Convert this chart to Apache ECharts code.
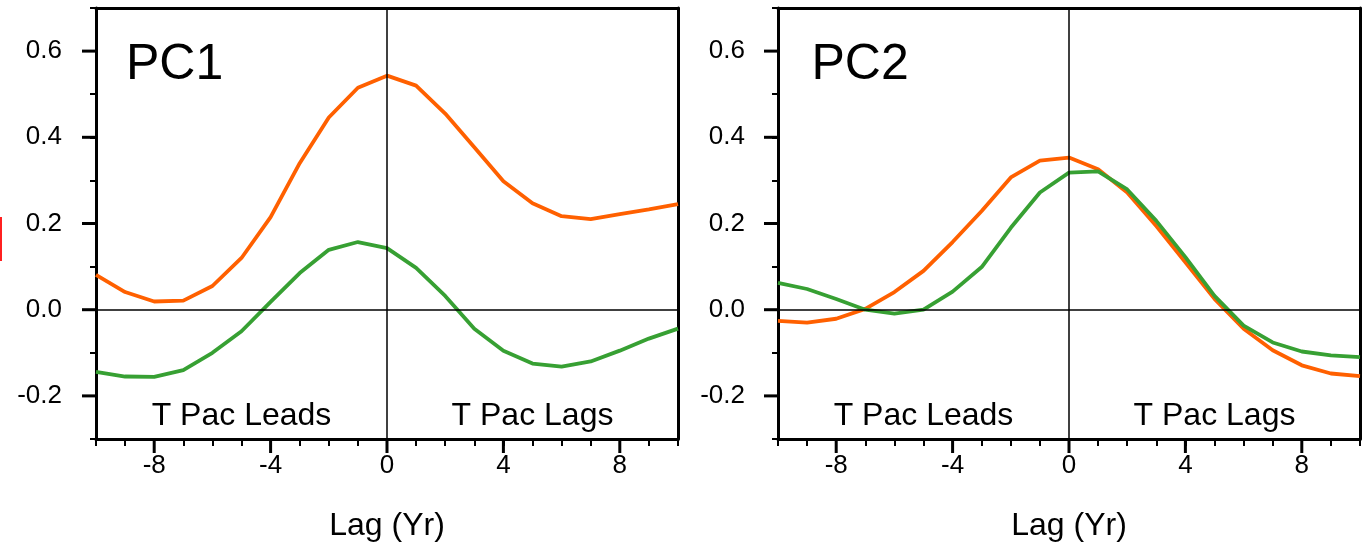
<!DOCTYPE html>
<html>
<head>
<meta charset="utf-8">
<script src="https://cdn.jsdelivr.net/npm/echarts@6/dist/echarts.min.js"></script>
<style>
html,body{margin:0;padding:0;background:#fff;}
#c{width:1366px;height:553px;}
</style>
</head>
<body>
<div id="c"></div>
<script>
// ---- data ----
const lags = [-10,-9,-8,-7,-6,-5,-4,-3,-2,-1,0,1,2,3,4,5,6,7,8,9,10];
const pc1Orange = [0.081,0.041,0.019,0.021,0.055,0.12,0.215,0.34,0.446,0.515,0.543,0.52,0.455,0.377,0.298,0.247,0.217,0.21,0.222,0.233,0.245];
const pc1Green  = [-0.144,-0.155,-0.156,-0.14,-0.1,-0.05,0.018,0.085,0.139,0.157,0.143,0.097,0.032,-0.044,-0.095,-0.125,-0.132,-0.12,-0.095,-0.067,-0.044];
const pc2Orange = [-0.026,-0.03,-0.021,0.002,0.041,0.09,0.157,0.229,0.307,0.346,0.353,0.326,0.272,0.194,0.11,0.025,-0.044,-0.094,-0.129,-0.148,-0.154];
const pc2Green  = [0.062,0.048,0.025,0.0,-0.009,0.0,0.042,0.099,0.19,0.272,0.318,0.321,0.279,0.206,0.122,0.032,-0.037,-0.076,-0.097,-0.106,-0.11];
const xMajorTicks = [-8,-4,0,4,8];
const yMajorTicks = [-0.2,0,0.2,0.4,0.6];
const panelTitles = ['PC1','PC2'];
const regionLabels = ['T Pac Leads','T Pac Lags'];
const xLabel = 'Lag (Yr)';

const X_MIN = -10, X_MAX = 10, Y_MIN = -0.3, Y_MAX = 0.7;
const ORANGE = '#ff6000', GREEN = '#37a033';
const FONT = '"Liberation Sans", Arial, Helvetica, sans-serif';

const chart = echarts.init(document.getElementById('c'), null, {renderer:'canvas'});

function pairs(ys){ return lags.map((x,i)=>[x, ys[i]]); }

const grids = [
  {left:96, top:8, width:582, height:431},
  {left:778, top:8, width:582, height:431}
];
const yLabelMargins = [34, 33];
const titleLag = [-8.97, -8.85];

const xAxes = [];
const yAxes = [];
grids.forEach((g,i)=>{
  xAxes.push({
    gridIndex:i, type:'value', min:X_MIN, max:X_MAX, interval:1, position:'bottom',
    axisLine:{show:true, onZero:false, lineStyle:{color:'#000', width:3}},
    axisTick:{show:true, length:7, lineStyle:{color:'#000', width:2}},
    axisLabel:{show:true, margin:14, color:'#000', fontSize:26, fontFamily:FONT,
      formatter:v=> (Math.round(v)%4===0 ? String(Math.round(v)) : '')},
    splitLine:{show:false},
    name:xLabel, nameLocation:'middle', nameGap:71,
    nameTextStyle:{color:'#000', fontSize:32, fontFamily:FONT}
  });
  xAxes.push({
    gridIndex:i, type:'value', min:X_MIN, max:X_MAX, position:'top',
    axisLine:{show:true, onZero:false, lineStyle:{color:'#000', width:3}},
    axisTick:{show:false}, axisLabel:{show:false}, splitLine:{show:false}
  });
  yAxes.push({
    gridIndex:i, type:'value', min:Y_MIN, max:Y_MAX, interval:0.1, position:'left',
    axisLine:{show:true, onZero:false, lineStyle:{color:'#000', width:3}},
    axisTick:{show:true, length:6, lineStyle:{color:'#000', width:2}},
    axisLabel:{show:true, margin:yLabelMargins[i], color:'#000', fontSize:26, fontFamily:FONT,
      formatter:v=>{ const k=Math.round(v*10); return (k%2===0) ? (k/10).toFixed(1) : ''; }},
    splitLine:{show:false}
  });
  yAxes.push({
    gridIndex:i, type:'value', min:Y_MIN, max:Y_MAX, position:'right',
    axisLine:{show:true, onZero:false, lineStyle:{color:'#000', width:3}},
    axisTick:{show:false}, axisLabel:{show:false}, splitLine:{show:false}
  });
});

const zeroLines = {
  silent:true, symbol:'none', animation:false,
  label:{show:false},
  lineStyle:{color:'#000', width:1.5, type:'solid'},
  data:[{yAxis:0},{xAxis:0}]
};

function lineSeries(data, color, gi, withZero){
  const s = {type:'line', xAxisIndex:gi*2, yAxisIndex:gi*2, data:pairs(data), showSymbol:false,
    symbol:'none', smooth:false, lineStyle:{color:color, width:3.8}, itemStyle:{color:color}, z:3};
  if(withZero) s.markLine = zeroLines;
  return s;
}
function xTickSeries(gi){
  return {type:'custom', xAxisIndex:gi*2, yAxisIndex:gi*2, clip:false, silent:true, z:5,
    encode:{x:0, y:1},
    data:xMajorTicks.map(v=>[v, Y_MIN]),
    renderItem:(params, api)=>{
      const p = api.coord([api.value(0), api.value(1)]);
      return {type:'line', shape:{x1:p[0], y1:p[1], x2:p[0], y2:p[1]+14}, style:{stroke:'#000', lineWidth:3}};
    }};
}
function yTickSeries(gi){
  return {type:'custom', xAxisIndex:gi*2, yAxisIndex:gi*2, clip:false, silent:true, z:5,
    encode:{x:0, y:1},
    data:yMajorTicks.map(v=>[X_MIN, v]),
    renderItem:(params, api)=>{
      const p = api.coord([api.value(0), api.value(1)]);
      return {type:'line', shape:{x1:p[0]-14, y1:p[1], x2:p[0], y2:p[1]}, style:{stroke:'#000', lineWidth:3}};
    }};
}

chart.setOption({
  animation:false,
  backgroundColor:'#fff',
  grid: grids.map(g=>Object.assign({show:false}, g)),
  xAxis: xAxes,
  yAxis: yAxes,
  series:[
    lineSeries(pc1Orange, ORANGE, 0, true),
    lineSeries(pc1Green, GREEN, 0, false),
    lineSeries(pc2Orange, ORANGE, 1, true),
    lineSeries(pc2Green, GREEN, 1, false),
    xTickSeries(0), yTickSeries(0), xTickSeries(1), yTickSeries(1)
  ]
});

// text annotations positioned via the chart's own coordinate system
const graphics = [];
[0,1].forEach(gi=>{
  const t = chart.convertToPixel({xAxisIndex:gi*2, yAxisIndex:gi*2}, [titleLag[gi], 0.567]);
  graphics.push({type:'text', x:t[0], y:t[1], silent:true, z:10,
    style:{text:panelTitles[gi], fill:'#000', font:'50px '+FONT, textAlign:'left', textVerticalAlign:'middle'}});
  const a = chart.convertToPixel({xAxisIndex:gi*2, yAxisIndex:gi*2}, [-5, -0.248]);
  const b = chart.convertToPixel({xAxisIndex:gi*2, yAxisIndex:gi*2}, [5, -0.248]);
  graphics.push({type:'text', x:a[0], y:a[1], silent:true, z:10,
    style:{text:regionLabels[0], fill:'#000', font:'32px '+FONT, textAlign:'center', textVerticalAlign:'middle'}});
  graphics.push({type:'text', x:b[0], y:b[1], silent:true, z:10,
    style:{text:regionLabels[1], fill:'#000', font:'32px '+FONT, textAlign:'center', textVerticalAlign:'middle'}});
});
// small red edge mark seen at the far left of the figure
graphics.push({type:'rect', shape:{x:0, y:217, width:2, height:44}, style:{fill:'#ff2020'}, silent:true});
chart.setOption({graphic:graphics});
</script>
</body>
</html>
